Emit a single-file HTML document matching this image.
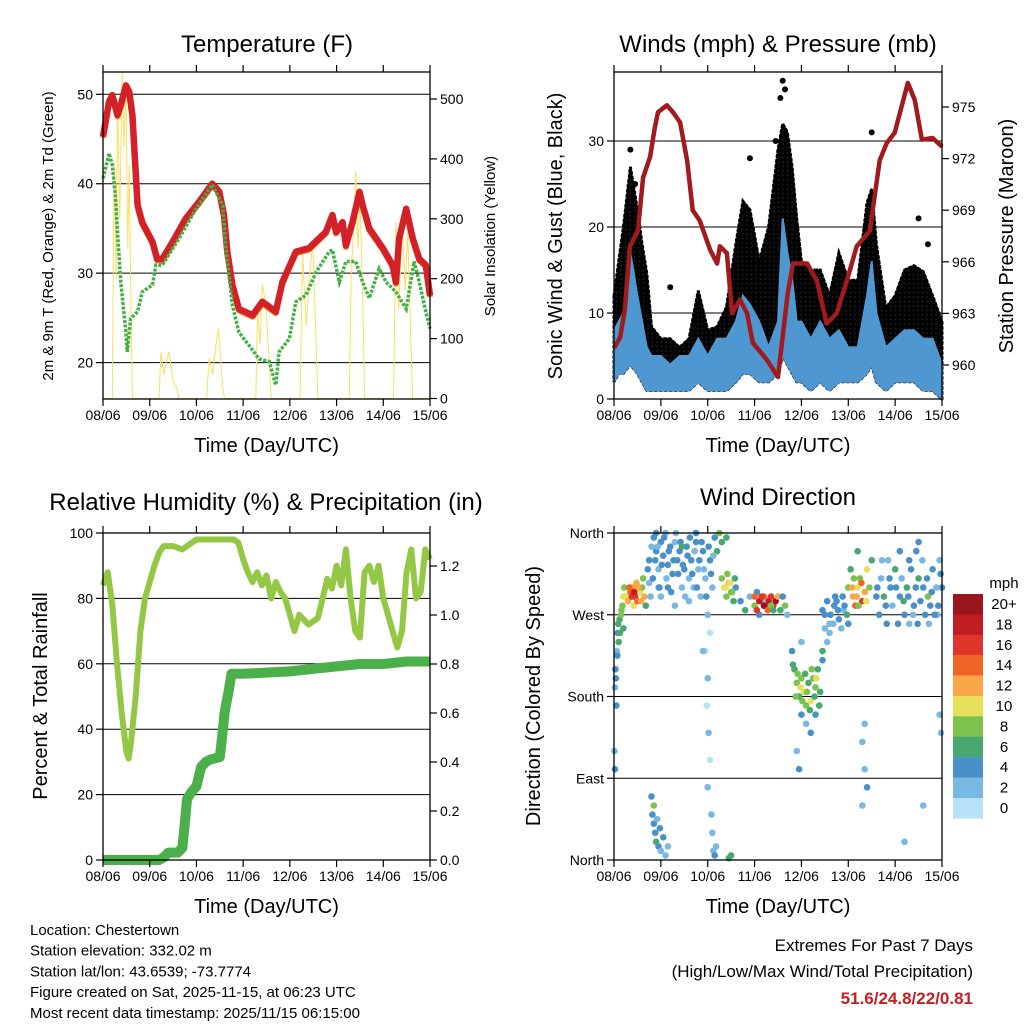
<!DOCTYPE html>
<html><head><meta charset="utf-8"><style>
body{margin:0;background:#fff;}
svg{display:block;font-family:"Liberation Sans",sans-serif;}
</style></head><body>
<svg id="c" width="1024" height="1024" viewBox="0 0 1024 1024">
<defs>
<pattern id="dots" width="4.5" height="4.5" patternUnits="userSpaceOnUse"><rect width="4.5" height="4.5" fill="#222"/><circle cx="2.25" cy="2.25" r="2.4" fill="#000"/></pattern>
</defs>
</svg>
<script>
// ---------- DATA ----------
const dayLabels=["08/06","09/06","10/06","11/06","12/06","13/06","14/06","15/06"];
// temperature
const tT=[0,.13,.2,.31,.38,.49,.56,.63,.7,.74,.84,1.06,1.16,1.27,1.49,1.77,2.06,2.34,2.49,2.59,2.66,2.77,2.91,3.2,3.41,3.52,3.7,3.84,4.13,4.41,4.77,4.91,4.99,5.13,5.2,5.34,5.49,5.56,5.7,5.99,6.2,6.27,6.34,6.49,6.63,6.77,6.91,7.0];
const tempV=[45.3,49.2,49.9,47.7,48.8,51,50.3,47.7,41.3,37.6,35.7,33.5,31.6,31.6,33.5,36.1,38,40,39.1,36.5,32.4,28.7,26,25.3,26.8,26.4,25.7,29,32.4,32.8,34.6,36.5,34.6,35.7,33.1,35.7,39.1,37.6,35,32.8,30.9,29,33.9,37.2,33.9,31.6,30.9,27.5];
const tdT=[0,.09,.13,.2,.27,.31,.38,.49,.52,.59,.74,.84,1.06,1.13,1.27,1.63,1.99,2.34,2.56,2.63,2.77,2.91,3.13,3.34,3.56,3.7,3.77,3.99,4.13,4.34,4.56,4.84,4.91,5.06,5.2,5.41,5.56,5.7,5.91,6.06,6.27,6.49,6.66,6.77,6.91,7.0];
const dewV=[40.6,42.5,43.4,42.1,38.4,34.6,29,23.4,21.2,24.9,25.7,27.9,28.7,30.9,30.9,33.9,37.2,39.9,37.6,32.8,26.4,23.4,21.9,20.4,20.1,17.5,21.2,22.7,26.8,27.5,30.1,32.4,32.6,29,31.3,31.3,29,27.2,30.5,29,27.9,26,31.3,29,25.7,23.8];
const sunT=[0,.2,.24,.28,.31,.36,.41,.45,.49,.53,.56,.6,.63,.66,1.2,1.24,1.3,1.35,1.41,1.5,1.59,1.63,2.22,2.27,2.35,2.42,2.47,2.56,2.6,3.27,3.31,3.36,3.41,3.48,3.56,3.6,4.22,4.27,4.35,4.42,4.49,4.56,4.6,5.27,5.31,5.36,5.41,5.46,5.5,5.56,5.6,6.22,6.27,6.33,6.41,6.47,6.52,6.59,6.63,7];
const sunV=[0,0,395,200,500,300,546,420,520,250,390,150,0,0,0,78,40,60,78,30,15,0,0,67,40,90,117,20,0,0,150,90,190,160,60,0,0,245,120,200,262,100,0,0,200,280,380,250,340,170,0,0,295,150,290,180,280,100,0,0];
// winds
const gT=[0,.1,.2,.35,.5,.6,.7,.8,1.0,1.2,1.4,1.6,1.8,2.0,2.2,2.4,2.6,2.75,2.9,3.1,3.3,3.5,3.6,3.7,3.8,3.9,4.0,4.2,4.4,4.6,4.8,5.0,5.2,5.4,5.5,5.6,5.8,6.0,6.2,6.4,6.6,6.8,7.0];
const gustHi=[12,16,20,27,22,18,14.6,8.4,7,7,6,7,12.6,8,8.4,10.7,18,23,22,16,20,29,32,31,27,21,16,15,15,12,17,13.8,13.8,22.8,24.4,18,10.6,12,15,15.5,14.8,12,9];
const windHi=[8,9,10,17,12,9,6,5,5,4,5,5,7,5,7,7,9,12,11,9,6,9,21,17,14,9,9,7,9,7,8,6,6,12,16,10,6,7,8,8,7,7,4];
const windLo=[2,3,3,4,3,2,1,1,1,1,1,1,2,1,1,1,2,3,3,2,2,3,5,4,3,2,2,1,2,1,2,2,2,3,4,2,1,2,2,2,1,1,0];
const outT=[0.35,0.45,1.2,2.9,3.45,3.55,3.6,3.65,5.5,6.5,6.7];
const outV=[29,25,13,28,30,35,37,36,31,21,18];
const pT=[0,.13,.23,.34,.51,.62,.77,.87,.94,1.13,1.26,1.41,1.56,1.68,1.83,2.05,2.2,2.26,2.41,2.52,2.69,2.84,2.96,3.26,3.5,3.71,3.82,4.12,4.33,4.54,4.75,4.97,5.18,5.46,5.67,5.82,5.99,6.27,6.42,6.57,6.8,7.0];
const presV=[961,961.6,963.2,966.9,967.8,970.9,972.1,973.8,974.7,975.1,974.7,974.1,971.9,969,968.4,966.7,965.9,966.9,966.5,963,963.8,963,961.3,960.3,959.3,964.2,965.9,965.9,964.9,962.4,963,964.9,966.9,967.8,971.9,972.9,973.5,976.4,975.4,973.1,973.2,972.7];
// RH & precip
const rhT=[0,.1,.2,.3,.4,.5,.55,.6,.7,.8,.9,1,1.1,1.2,1.3,1.5,1.7,1.9,2,2.3,2.6,2.8,2.9,3,3.1,3.2,3.3,3.4,3.5,3.6,3.7,3.8,3.9,4,4.1,4.2,4.4,4.6,4.7,4.8,4.9,5,5.1,5.2,5.3,5.4,5.5,5.6,5.7,5.8,5.9,6,6.1,6.2,6.3,6.4,6.5,6.6,6.7,6.8,6.9,7];
const rhV=[84,88,78,60,45,33,31,36,50,70,80,85,90,94,96,96,95,97,98,98,98,98,97,92,88,85,88,84,87,80,85,82,80,75,70,75,72,74,80,86,83,90,84,95,80,70,68,88,90,85,90,80,75,70,65,70,88,95,80,82,95,92];
const prT=[0,1.2,1.3,1.4,1.6,1.7,1.75,1.8,1.9,2.0,2.1,2.2,2.3,2.5,2.55,2.6,2.7,2.75,3.0,4.0,5.0,5.5,6.0,6.5,7.0];
const precipV=[0,0,.01,.03,.03,.05,.15,.25,.28,.30,.38,.40,.41,.42,.50,.60,.70,.76,.76,.77,.79,.80,.80,.81,.81];
// wind direction
const dirT=[0.01,0.02,0.02,0.03,0.05,0.06,0.08,0.1,0.12,0.15,0.18,0.2,0.22,0.25,0.3,0.35,0.4,0.42,0.45,0.48,0.5,0.55,0.6,0.62,0.65,0.68,0.75,0.8,0.85,0.9,0.95,1.0,1.05,1.1,1.15,1.2,1.25,1.3,1.35,1.4,1.45,1.5,1.55,1.6,0.75,0.95,0.8,0.82,0.85,0.88,0.9,0.92,0.95,0.98,1.0,1.05,1.1,0.85,1.15,1.65,1.7,1.75,1.8,1.85,1.9,1.95,2.0,2.05,2.1,2.15,1.95,2.0,1.98,2.02,2.05,2.0,2.08,2.1,2.12,2.05,1.9,2.15,2.18,2.2,2.25,2.3,2.35,2.4,2.45,2.5,2.55,2.6,2.4,2.5,2.45,2.7,2.8,2.9,3.0,3.05,3.1,3.15,3.2,3.25,3.3,3.35,3.4,3.45,3.5,3.55,3.6,3.65,3.7,3.8,3.85,3.9,3.95,4.0,4.05,4.1,4.15,4.2,4.25,4.3,4.35,4.4,4.45,4.0,4.1,4.2,3.9,4.3,4.0,4.45,3.95,4.5,4.6,4.7,4.8,4.9,5.0,4.6,4.75,5.0,5.05,5.1,5.15,5.2,5.25,5.3,5.35,5.4,5.45,5.5,5.2,5.3,5.35,5.4,5.3,5.35,5.6,5.7,5.8,5.9,6.0,6.1,6.2,6.25,6.3,6.4,6.5,6.6,6.7,6.8,6.9,7.0,6.5,6.45,6.3,6.1,5.85,6.75,6.95,6.2,6.6,6.95,6.98,
0.72,0.78,0.83,0.88,0.93,0.97,1.02,1.07,1.12,1.17,1.22,1.27,1.32,1.37,1.42,1.47,1.52,1.57,1.62,1.67,1.72,1.77,1.82,1.87,1.92,1.97,2.02,2.07,2.12,1.0,1.3,1.6,0.9,1.15,1.45,1.75,
4.45,4.5,4.55,4.62,4.68,4.72,4.78,4.85,4.92,4.97,4.55,4.88,
5.62,5.66,5.72,5.76,5.82,5.88,5.94,6.02,6.06,6.14,6.18,6.28,6.34,6.38,6.44,6.48,6.54,6.58,6.64,6.68,6.72,6.78,6.84,6.88,6.92,6.97,
3.82,3.88,3.92,3.98,4.02,4.08,4.12,4.18,4.22,4.28,4.32,4.38,
0.04,0.07,0.09,0.13,0.16,0.2,0.33,0.38,0.43,0.52,0.58,
3.0,3.05,3.1,3.15,3.2,3.28,3.35,3.4,
5.08,5.18,5.28,5.38,5.12,5.22,
2.3,2.38,2.42,2.48,2.52,2.58];
const dirV=[120,100,190,210,170,230,250,240,265,270,280,255,300,290,285,295,300,280,290,305,285,295,300,310,290,280,330,345,355,340,320,350,335,360,325,345,315,350,330,340,300,320,345,310,305,300,70,50,40,30,20,45,15,35,10,25,5,60,15,330,300,350,320,290,340,310,270,330,300,355,230,200,170,140,110,80,50,30,10,250,230,5,15,340,360,350,300,290,305,295,285,300,355,5,2,285,275,290,280,295,270,285,290,280,285,290,280,285,290,275,290,280,270,230,210,195,180,200,185,170,195,175,200,190,210,185,220,160,150,140,120,160,240,230,100,270,260,280,265,275,260,250,285,300,320,290,280,300,310,285,295,320,300,330,340,130,100,80,60,150,290,310,280,300,320,290,270,300,330,280,310,300,290,320,270,300,350,340,260,340,330,280,330,20,60,160,140,
320,290,310,330,345,300,325,355,310,340,295,330,360,315,350,325,290,335,355,315,340,300,330,350,320,290,345,315,335,290,280,285,360,300,345,360,
275,255,285,270,260,290,275,255,280,270,240,290,
300,270,330,290,260,310,280,300,260,310,285,290,320,270,300,260,285,330,270,310,260,295,270,300,280,315,
215,180,205,190,175,205,185,165,210,180,200,170,
200,225,260,250,275,290,300,290,295,300,285,
290,275,285,290,280,275,280,275,
300,290,305,285,310,280,
310,300,315,305,295,310];
const dirS=[3,4,3,4,4,3,5,6,7,8,8,6,9,10,12,14,13,11,16,12,14,10,9,8,12,7,4,3,4,5,3,4,5,3,4,5,4,3,5,4,3,4,5,3,2,3,5,4,5,4,6,3,4,5,3,4,3,8,2,4,3,4,3,2,4,3,2,4,3,5,1,2,1,2,1,2,3,2,3,1,2,4,3,6,8,7,10,8,12,9,6,4,7,7,6,4,6,3,8,4,5,3,14,16,18,17,16,20,12,6,4,8,3,4,6,8,7,9,10,8,6,10,8,9,7,6,5,4,3,4,3,5,3,6,4,4,3,5,4,3,5,2,4,8,6,12,14,10,9,16,12,10,8,6,7,3,2,4,3,2,4,3,5,4,6,5,4,7,5,4,6,5,8,4,3,4,5,4,3,4,3,4,3,3,2,3,2,
4,3,5,4,3,4,5,4,3,4,5,4,3,4,5,4,3,4,5,4,3,4,5,4,3,4,5,4,3,2,2,3,5,4,6,5,
4,3,5,4,3,5,4,3,4,6,3,4,
5,4,3,6,4,5,3,4,5,3,6,4,5,3,4,5,4,3,5,4,3,5,4,3,5,4,
6,8,9,10,8,7,9,6,8,7,10,6,
4,5,6,6,9,11,15,17,18,13,12,
15,17,19,16,20,15,8,7,
12,13,15,11,9,8,
9,10,8,11,9,7];
const cbLabels=["20+","18","16","14","12","10","8","6","4","2","0"];
const cbColors=["#9a161c","#c01c24","#e0352a","#f06428","#f8a848","#e6e05a","#7cc24c","#48a870","#4a90c8","#7ab8e4","#b8e2f8"];

// ---------- HELPERS ----------
const svg=document.getElementById('c');
const NS="http://www.w3.org/2000/svg";
function mk(tag,attrs,parent){const e=document.createElementNS(NS,tag);for(const k in attrs)e.setAttribute(k,attrs[k]);(parent||svg).appendChild(e);return e;}
function txt(s,x,y,size,anchor,parent,extra){const e=mk('text',Object.assign({x:x,y:y,'font-size':size,'text-anchor':anchor||'middle',fill:'#000'},extra||{}),parent);e.textContent=s;return e;}
function lin(d0,d1,r0,r1){return v=>r0+(v-d0)/(d1-d0)*(r1-r0);}
function pathD(xs,ys,X,Y){return xs.map((t,i)=>(i?'L':'M')+X(t).toFixed(1)+','+Y(ys[i]).toFixed(1)).join('');}

function panel(name,x0,x1,y0,y1){
  const g=mk('g',{});
  
  
  const X=lin(0,7,x0,x1);
  return {g,X,x0,x1,y0,y1};
}
function frame(p){mk('rect',{x:p.x0,y:p.y0,width:p.x1-p.x0,height:p.y1-p.y0,fill:'none',stroke:'#000','stroke-width':1.3},p.g);}
function xAxis(p,title){
  const ax=mk('g',{},p.g);
  
  
  dayLabels.forEach((l,i)=>{const x=p.X(i);
    mk('line',{x1:x,x2:x,y1:p.y1,y2:p.y1+7,stroke:'#000','stroke-width':1.2},ax);
    mk('line',{x1:x,x2:x,y1:p.y0,y2:p.y0-7,stroke:'#000','stroke-width':1.2},ax);
    txt(l,x,p.y1+21,14,'middle',ax);});
  const t=txt(title,(p.x0+p.x1)/2,p.y1+53,20,'middle',ax);
  
  
}
function yAxis(p,vals,labels,Y,side,grid,name){
  const ax=mk('g',{},p.g);
  
  
  vals.forEach((v,i)=>{const y=Y(v);
    if(side==='l'){mk('line',{x1:p.x0-7,x2:p.x0,y1:y,y2:y,stroke:'#000','stroke-width':1.2},ax);
      txt(labels[i],p.x0-10,y+5,14,'end',ax);
      if(grid)mk('line',{x1:p.x0,x2:p.x1,y1:y,y2:y,stroke:'#000','stroke-width':1},ax);}
    else{mk('line',{x1:p.x1,x2:p.x1+7,y1:y,y2:y,stroke:'#000','stroke-width':1.2},ax);
      txt(labels[i],p.x1+10,y+5,14,'start',ax);}
  });
}
function vTitle(s,x,y,size,name){const t=txt(s,x,y,size,'middle',svg,{transform:`rotate(-90 ${x} ${y})`});
  
  }
function title(s,x,y,name){const t=txt(s,x,y,24,'middle');
  
  }

// ---------- PANEL 1: Temperature ----------
(function(){
  const p=panel('temperature-panel',103,430,72,399);
  const Y=lin(20,50,362.6,94.3), YS=lin(0,500,398.5,99);
  const tv=[20,30,40,50]; yAxis(p,tv,tv.map(String),Y,'l',true,'temp-y-axis');
  const sv=[0,100,200,300,400,500]; yAxis(p,sv,sv.map(String),YS,'r',false,'solar-y-axis');
  const clip=mk('clipPath',{id:'cp1'});mk('rect',{x:103,y:72,width:327,height:327},clip);
  const s=mk('path',{d:pathD(sunT,sunV,p.X,YS),fill:'none',stroke:'#f8e060','stroke-width':1,'clip-path':'url(#cp1)'},p.g);
  
  
  const o=mk('path',{d:pathD(tT,tempV,p.X,v=>Y(v)+1.5),fill:'none',stroke:'#f07b28','stroke-width':6,'stroke-linejoin':'round'},p.g);
  
  
  const r=mk('path',{d:pathD(tT,tempV,p.X,Y),fill:'none',stroke:'#d42027','stroke-width':6.5,'stroke-linejoin':'round'},p.g);
  
  
  const d=mk('path',{d:pathD(tdT,dewV,p.X,Y),fill:'none',stroke:'#44b046','stroke-width':3.5,'stroke-dasharray':'3 1.5'},p.g);
  
  
  frame(p);xAxis(p,'Time (Day/UTC)');
  title('Temperature (F)',267,52,'temperature-title');
  vTitle('2m & 9m T (Red, Orange) & 2m Td (Green)',53,236,15,'temp-y-title');
  vTitle('Solar Insolation (Yellow)',495,236,15,'solar-y-title');
})();

// ---------- PANEL 2: Winds ----------
(function(){
  const p=panel('winds-panel',614,942,72,399);
  const Y=lin(0,30,399,141), YP=lin(960,975,365,107);
  const wv=[0,10,20,30]; yAxis(p,wv,wv.map(String),Y,'l',true,'wind-y-axis');
  const pv=[960,963,966,969,972,975]; yAxis(p,pv,pv.map(String),YP,'r',false,'pressure-y-axis');
  const band=(hi,lo)=>pathD(gT,hi,p.X,Y)+gT.slice().reverse().map((t,i)=>'L'+p.X(t).toFixed(1)+','+Y(lo[lo.length-1-i]).toFixed(1)).join('')+'Z';
  const gb=mk('path',{d:band(gustHi,windLo),fill:'url(#dots)',stroke:'#000','stroke-width':3,'stroke-dasharray':'2 3','stroke-linecap':'round'},p.g);
  
  
  outT.forEach((t,i)=>{const c=mk('circle',{cx:p.X(t),cy:Y(outV[i]),r:3,fill:'#000'},p.g);
    
    });
  const wb=mk('path',{d:band(windHi,windLo),fill:'#4f97d0',stroke:'#4f97d0','stroke-width':2},p.g);
  
  
  const pr=mk('path',{d:pathD(pT,presV,p.X,YP),fill:'none',stroke:'#a01a1e','stroke-width':4.5,'stroke-linejoin':'round'},p.g);
  
  
  frame(p);xAxis(p,'Time (Day/UTC)');
  title('Winds (mph) & Pressure (mb)',778,52,'winds-title');
  vTitle('Sonic Wind & Gust (Blue, Black)',562,236,20,'wind-y-title');
  vTitle('Station Pressure (Maroon)',1013,236,20,'pressure-y-title');
})();

// ---------- PANEL 3: RH ----------
(function(){
  const p=panel('humidity-panel',103,430,533,860);
  const Y=lin(0,100,860,533), YR=lin(0,1.2,860,566);
  const hv=[0,20,40,60,80,100]; yAxis(p,hv,hv.map(String),Y,'l',true,'rh-y-axis');
  const rv=[0,.2,.4,.6,.8,1.0,1.2]; yAxis(p,rv,rv.map(v=>v.toFixed(1)),YR,'r',false,'precip-y-axis');
  const pr=mk('path',{d:pathD(prT,precipV,p.X,YR),fill:'none',stroke:'#4cb04a','stroke-width':10,'stroke-linejoin':'round'},p.g);
  
  
  const rh=mk('path',{d:pathD(rhT,rhV,p.X,Y),fill:'none',stroke:'#94c844','stroke-width':6,'stroke-linejoin':'round'},p.g);
  
  
  frame(p);xAxis(p,'Time (Day/UTC)');
  title('Relative Humidity (%) & Precipitation (in)',266,510,'humidity-title');
  vTitle('Percent & Total Rainfall',47,696,20,'rh-y-title');
})();

// ---------- PANEL 4: Direction ----------
(function(){
  const p=panel('direction-panel',614,942,533,860);
  const Y=lin(0,360,860,533);
  const dv=[0,90,180,270,360]; yAxis(p,dv,["North","East","South","West","North"],Y,'l',true,'direction-y-axis');
  dirT.forEach((t,i)=>{const b=Math.min(10,Math.floor(dirS[i]/2));
    const c=mk('circle',{cx:p.X(t),cy:Y(dirV[i]),r:3.3,fill:cbColors[10-b]},p.g);
    
    });
  frame(p);xAxis(p,'Time (Day/UTC)');
  title('Wind Direction',778,505,'direction-title');
  vTitle('Direction (Colored By Speed)',540,696,20,'direction-y-title');
  const cb=mk('g',{});
  
  
  txt('mph',1004,588,15,'middle',cb);
  cbLabels.forEach((l,i)=>{mk('rect',{x:953,y:594+i*20.4,width:30,height:20.6,fill:cbColors[i]},cb);
    txt(l,1004,609+i*20.4,15,'middle',cb);});
})();

// ---------- FOOTER ----------
const info=["Location: Chestertown","Station elevation: 332.02 m","Station lat/lon: 43.6539; -73.7774","Figure created on Sat, 2025-11-15, at 06:23 UTC","Most recent data timestamp: 2025/11/15 06:15:00"];
const ig=mk('g',{});


info.forEach((s,i)=>txt(s,30,935+i*20.7,15,'start',ig));
const eg=mk('g',{});


txt('Extremes For Past 7 Days',973,951,17,'end',eg);
txt('(High/Low/Max Wind/Total Precipitation)',973,977,17,'end',eg);
txt('51.6/24.8/22/0.81',973,1004,17,'end',eg,{fill:'#c41e24','font-weight':'bold'});
</script>
</body></html>
